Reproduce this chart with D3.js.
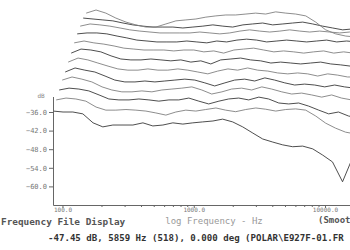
<!DOCTYPE html>
<html>
<head>
<meta charset="utf-8">
<script src="https://cdn.jsdelivr.net/npm/d3@7"></script>
<style>
  body { margin: 0; background: #fff; }
  text { font-family: "DejaVu Sans Mono", monospace; }
</style>
</head>
<body>
<svg id="chart" width="350" height="250"></svg>
<script>
// frequency grid (Hz) shared by all polar curves
const freqs = [85, 101, 120, 143, 171, 203, 242, 289, 344, 410, 488, 582, 693, 826, 984,
  1170, 1400, 1660, 1980, 2360, 2820, 3350, 4000, 4760, 5670, 6760, 8060, 9600, 11400, 13600, 16200];

// level in dB, front (0 deg) curve first, then the curves stacked behind it
const curve0 = [-35.7, -36, -36, -36.6, -39.5, -40.8, -40.2, -40.2, -40.2, -39.5, -40.5, -40.2, -39.5, -39.9, -39.5,
  -39.2, -38.9, -38.3, -39.2, -40.8, -42.8, -44.7, -45.7, -46.6, -47.2, -47, -47.9, -49.9, -52.1, -58.5, -50.8];
const curve1 = [-35.1, -34.5, -34.8, -35.5, -37.4, -38.4, -38.4, -38.2, -38.4, -38.7, -39.3, -40, -39, -38.4, -38.7,
  -38.2, -37.7, -38.4, -38.9, -38.2, -37.7, -38.1, -38.7, -38.2, -38, -38.4, -40.3, -42.6, -44.2, -45.5, -46.1];
const curve2 = [-34.9, -34.3, -34.6, -35.2, -36.5, -37.8, -38.1, -38.1, -37.8, -38.1, -38.5, -38.1, -38.1, -37.5, -38.5,
  -39.4, -38.5, -37.8, -37.5, -38.1, -37.2, -37.8, -39.1, -39.4, -39.1, -40.1, -41.4, -42.6, -42, -43.3, -43.9];
const curve3 = [-34.7, -33.7, -34.4, -35.3, -36.9, -37.9, -38.5, -38.5, -38.2, -38.5, -37.9, -37.6, -37.3, -36.9, -37.9,
  -39.2, -38.5, -37.6, -37.3, -37.9, -36.9, -37.6, -38.5, -39.2, -38.9, -39.5, -40.2, -39.5, -40.5, -41.1, -41.5];
const curve4 = [-35.1, -33.8, -34.5, -35.1, -36.4, -37.7, -38.3, -38.3, -38, -38.3, -38, -37.7, -37.4, -37.7, -38.6,
  -39.6, -38.6, -37.7, -37.4, -38, -37, -37.7, -38.6, -39.3, -39, -39.3, -39.9, -39.3, -39.9, -40.3, -40.6];
const curve5 = [-34.9, -33.6, -34.2, -35.2, -36.2, -37.1, -37.5, -37.5, -37.1, -37.5, -37.5, -37.1, -37.5, -38.1, -38.7,
  -37.8, -37.1, -37.5, -36.8, -37.5, -37.8, -38.4, -38.7, -38.4, -38.7, -39.4, -38.7, -39.1, -39.7, -39.7, -40];
const curve6 = [-35, -33.7, -34, -34.6, -35.9, -36.9, -37.2, -37.2, -36.9, -37.2, -37.5, -37.2, -37.9, -37.5, -38.5,
  -37.2, -36.9, -36.6, -37.2, -37.5, -38.2, -37.9, -38.2, -38.5, -38.2, -37.9, -38.5, -38.8, -39.2, -39.2, -39.5];
const curve7 = [-34.7, -34.1, -34.7, -35.1, -35.7, -36.4, -36.7, -37, -37, -37, -37.3, -37, -37, -37.6, -37.3,
  -38, -37, -36.7, -36.4, -37, -37.6, -37.3, -37.6, -38, -37.6, -37.3, -38, -37.6, -38, -38.3, -38.6];
const curve8 = [-34.8, -34.5, -34.5, -34.8, -35.5, -36.1, -36.8, -37.1, -37.4, -37.4, -37.4, -37.1, -37.4, -37.7, -37.1,
  -37.4, -36.8, -36.5, -36.8, -37.4, -37.1, -36.8, -37.1, -37.4, -37.1, -36.8, -37.4, -37.1, -37.4, -37.4, -37.7];
const curve9 = [-35.3, -34.6, -34.9, -35.3, -35.9, -36.5, -36.9, -37.2, -37.5, -37.5, -37.5, -37.5, -37.2, -37.5, -37.8,
  -37.5, -36.9, -36.5, -36.9, -37.2, -36.9, -36.5, -36.9, -37.2, -36.9, -37.2, -37.5, -37.2, -37.8, -38.2, -38.5];
const curve10 = [-35.7, -36, -36.3, -36.6, -37.3, -37.9, -38.3, -38.6, -38.6, -38.6, -38.9, -38.6, -38.3, -37.9, -38.3,
  -38.6, -37.9, -37.6, -37.3, -37.9, -37.6, -37.3, -37, -37.6, -38.3, -38.9, -39.5, -39.2, -38.9, -38.9, -39.2];
const curve11 = [-37.1, -36.1, -37.1, -38.7, -40, -40.9, -41.6, -41.6, -40.6, -39.6, -39.3, -39, -38.4, -38, -37.7,
  -37.7, -37.4, -37.1, -37.4, -36.7, -37.1, -37.4, -38, -40, -42.5, -43.8, -44.5, -44.8, -45.1, -45.1, -45.1];

const curves = [curve0, curve1, curve2, curve3, curve4, curve5, curve6, curve7, curve8, curve9, curve10, curve11];

const yTicks = [-36, -42, -48, -54, -60];
const xMajor = [100, 1000, 10000];
const xMinor = [200, 300, 400, 500, 600, 700, 800, 900, 2000, 3000, 4000, 5000, 6000, 7000, 8000, 9000];

const svg = d3.select('#chart');

const x = d3.scaleLog().domain([84.7, 15500]).range([53, 350]);
const y = d3.scaleLinear().domain([-66, -31]).range([205, 96.5]);

// waterfall offset between successive curves
const stepX = 3;
const stepY = 9.3;

const line = i => d3.line()
  .x((d, k) => x(freqs[k]) + i * stepX)
  .y(d => y(d) - i * stepY);

svg.append('g')
  .selectAll('path')
  .data(curves)
  .join('path')
  .attr('d', (d, i) => line(i)(d))
  .attr('fill', 'none')
  .attr('stroke', (d, i) => i % 2 ? '#808080' : '#3a3a3a')
  .attr('stroke-width', 0.9);

// y axis
const yAxis = svg.append('g')
  .attr('transform', 'translate(53,0)')
  .call(d3.axisLeft(y).tickValues(yTicks).tickFormat(d3.format('.1f')).tickSize(4).tickSizeOuter(0).tickPadding(2));
yAxis.selectAll('text').attr('font-size', 7).attr('fill', '#777');
yAxis.selectAll('line, path').attr('stroke', '#666');

svg.append('text')
  .attr('x', 41).attr('y', 98)
  .attr('text-anchor', 'middle')
  .attr('font-size', 6)
  .attr('fill', '#888')
  .text('dB');

// x axis
const xAxis = svg.append('g')
  .attr('transform', 'translate(0,205)')
  .call(d3.axisBottom(x).tickValues(xMajor).tickFormat(d3.format('.1f')).tickSize(3).tickSizeOuter(0).tickPadding(0));
xAxis.selectAll('text').attr('font-size', 6).attr('fill', '#777');
xAxis.selectAll('line, path').attr('stroke', '#666');

svg.append('g')
  .selectAll('line')
  .data(xMinor)
  .join('line')
  .attr('x1', d => x(d)).attr('x2', d => x(d))
  .attr('y1', 205).attr('y2', 207)
  .attr('stroke', '#666');

svg.append('text')
  .attr('x', 1).attr('y', 225)
  .attr('font-size', 9.4)
  .attr('font-weight', 'bold')
  .attr('fill', '#555')
  .text('Frequency File Display');

svg.append('text')
  .attr('x', 214).attr('y', 224)
  .attr('text-anchor', 'middle')
  .attr('font-size', 9)
  .attr('fill', '#999')
  .text('log Frequency - Hz');

svg.append('text')
  .attr('x', 318).attr('y', 223)
  .attr('font-size', 9)
  .attr('font-weight', 'bold')
  .attr('fill', '#555')
  .text('(Smoot');

svg.append('text')
  .attr('x', 48).attr('y', 241)
  .attr('font-size', 9.1)
  .attr('font-weight', 'bold')
  .attr('fill', '#333')
  .text('-47.45 dB, 5859 Hz (518), 0.000 deg (POLAR\\E927F-01.FR');
</script>
</body>
</html>
